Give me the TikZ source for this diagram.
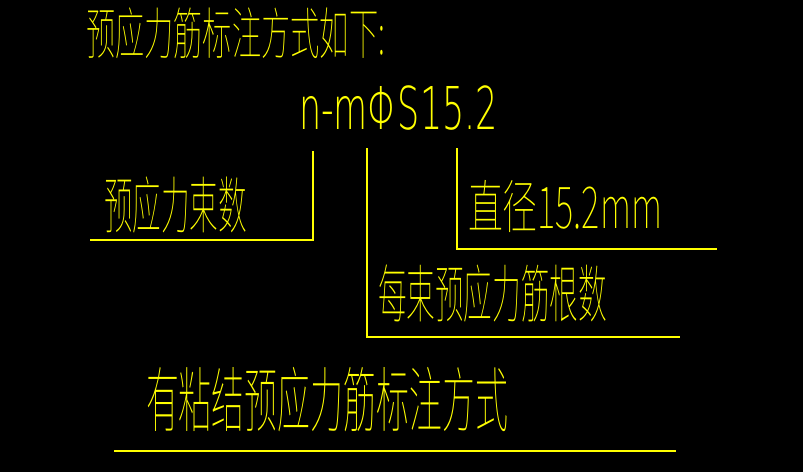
\documentclass[tikz,border=0pt]{standalone}
\usepackage{fontspec}
\usepackage{graphicx}
\newfontfamily\cjk{Noto Sans CJK SC}[UprightFont={* Thin}]
\newfontfamily\latn{DejaVu Sans}[UprightFont={* ExtraLight}]
\definecolor{cadyellow}{RGB}{255,255,0}
\tikzset{
  lbl/.style={inner sep=0pt, outer sep=0pt, anchor=west, text=cadyellow},
  leader/.style={draw=cadyellow, line width=1.2pt}
}
\newcommand{\cadtext}[3]{\resizebox{#1pt}{\height}{\cjk\fontsize{#2}{#2}\selectfont #3}}
\begin{document}
\begin{tikzpicture}[x=1pt,y=-1pt]
\fill[black] (0,0) rectangle (803,472);
\useasboundingbox (0,0) rectangle (803,472);
% texts
\node[lbl] (title) at (86,33) {\cadtext{299}{56}{预应力筋标注方式如下:}};
\node[lbl] (formula) at (299,108.5) {\resizebox{199pt}{\height}{\latn\fontsize{59}{59}\selectfont n-mΦS15.2}};
\node[lbl] (count) at (104,205) {\cadtext{143}{62}{预应力束数}};
\node[lbl] (diam) at (468,206) {\cadtext{194}{58}{直径15.2mm}};
\node[lbl] (per) at (378,293.5) {\cadtext{229}{63}{每束预应力筋根数}};
\node[lbl] (bottom) at (146,400) {\cadtext{362}{71}{有粘结预应力筋标注方式}};
% leader coordinates
\coordinate (a1) at (313,151);
\coordinate (a2) at (313,240);
\coordinate (a3) at (90,240);
\coordinate (b1) at (367,148);
\coordinate (b2) at (367,337);
\coordinate (b3) at (680,337);
\coordinate (c1) at (457,148);
\coordinate (c2) at (457,249);
\coordinate (c3) at (717,249);
\coordinate (d1) at (114,451);
\coordinate (d2) at (676,451);
\draw[leader] (a1) -- (a2) -- (a3);
\draw[leader] (b1) -- (b2) -- (b3);
\draw[leader] (c1) -- (c2) -- (c3);
\draw[leader] (d1) -- (d2);
\end{tikzpicture}
\end{document}
